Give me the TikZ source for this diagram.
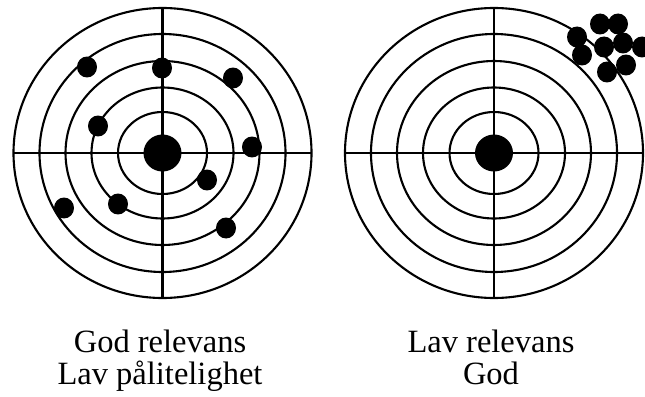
\documentclass[tikz,border=0pt]{standalone}
\usepackage{fontspec}
\setmainfont{Liberation Serif}
\tikzset{
  ring/.style={draw=black, line width=1.2pt},
  hit/.style={fill=black},
  caption/.style={font=\fontsize{18.5}{20}\selectfont, anchor=base, inner sep=0pt},
}
\begin{document}
\begin{tikzpicture}[x=0.02cm, y=0.02cm]
\useasboundingbox (0,0) rectangle (645,396);
% left target
\foreach \rx/\ry in {149/145,123/119,97/92,71/65.5,44.5/41}
  \draw[ring] (162.5,243) ellipse [x radius={\rx*0.02cm}, y radius={\ry*0.02cm}];
\draw[ring] (13.5,243) -- (311.5,243);
\draw[ring] (162.5,98) -- (162.5,388);
\fill[hit] (162.5,243) ellipse [x radius=0.38cm, y radius=0.37cm];
\foreach \p in {(87,329),(162,328),(233,318),(98,270),(252,249),(207,216),(118,192),(64,188),(226,168)}
  \fill[hit] \p ellipse [x radius=0.2cm, y radius=0.21cm];
% right target
\foreach \rx/\ry in {149/145,123/119,97/92,71/65.5,44.5/41}
  \draw[ring] (494,243) ellipse [x radius={\rx*0.02cm}, y radius={\ry*0.02cm}];
\draw[ring] (345,243) -- (643,243);
\draw[ring] (494,98) -- (494,388);
\fill[hit] (494,243) ellipse [x radius=0.38cm, y radius=0.37cm];
\foreach \p in {(577,359),(600,372),(618,372),(582,341),(604,349),(623,353),(642,349),(626,331),(607,324)}
  \fill[hit] \p ellipse [x radius=0.2cm, y radius=0.21cm];
% captions
\node[caption] (leftA) at (160,44) {God relevans};
\node[caption] (leftB) at (160,12) {Lav pålitelighet};
\node[caption] (rightA) at (491,44) {Lav relevans};
\node[caption] (rightB) at (491,12) {God};
\end{tikzpicture}
\end{document}
